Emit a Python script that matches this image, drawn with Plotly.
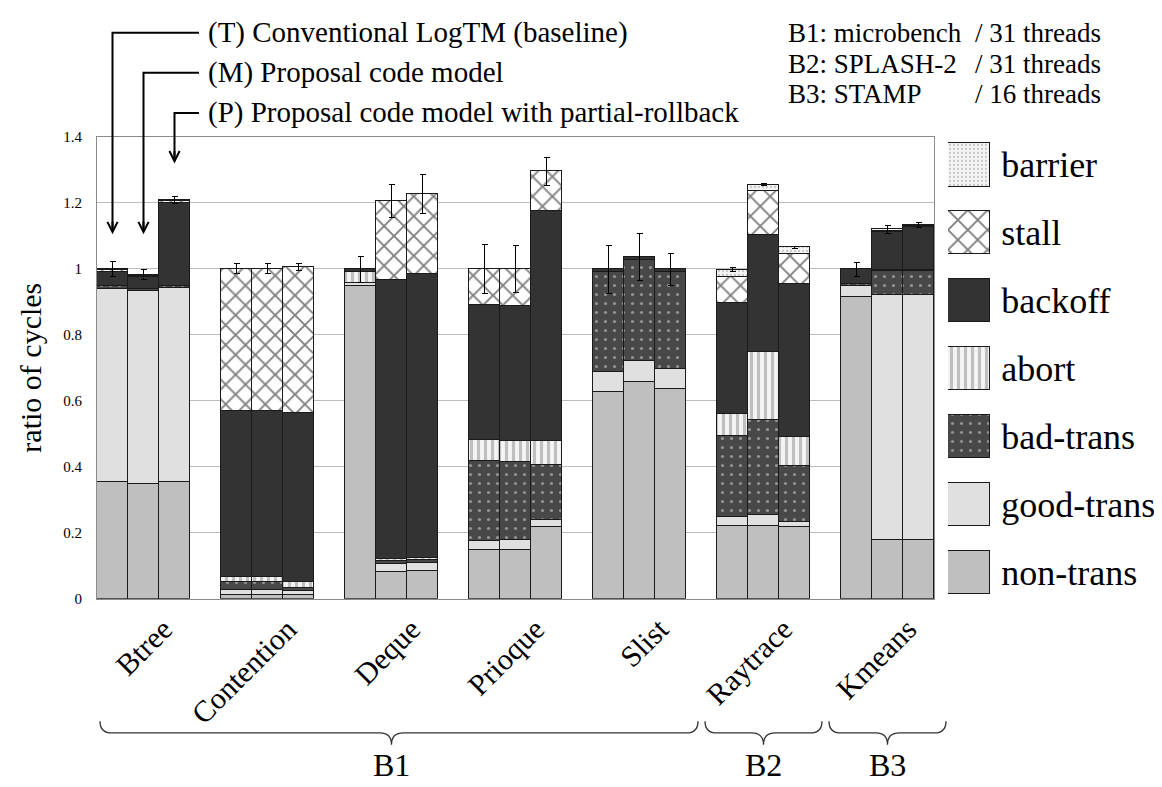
import plotly.graph_objects as go

# ---------------- data ----------------
groups = ["Btree", "Contention", "Deque", "Prioque", "Slist", "Raytrace", "Kmeans"]
configs = ["T", "M", "P"]
series_names = ["non-trans", "good-trans", "bad-trans", "abort", "backoff", "stall", "barrier"]

# values in order: group-major (7 groups) x config-minor (T, M, P)
non_trans  = [0.355, 0.349, 0.355,  0.010, 0.010, 0.010,  0.949, 0.081, 0.084,
              0.149, 0.149, 0.218,  0.628, 0.658, 0.637,  0.221, 0.221, 0.218,
              0.915, 0.178, 0.178]
good_trans = [0.585, 0.585, 0.587,  0.018, 0.018, 0.013,  0.007, 0.023, 0.023,
              0.027, 0.029, 0.020,  0.059, 0.062, 0.060,  0.027, 0.033, 0.016,
              0.034, 0.742, 0.742]
bad_trans  = [0.007, 0.006, 0.007,  0.024, 0.024, 0.011,  0.000, 0.010, 0.010,
              0.241, 0.236, 0.169,  0.303, 0.306, 0.293,  0.245, 0.287, 0.168,
              0.004, 0.074, 0.074]
abort      = [0.000, 0.000, 0.000,  0.014, 0.014, 0.016,  0.036, 0.006, 0.006,
              0.064, 0.065, 0.072,  0.000, 0.000, 0.000,  0.068, 0.208, 0.089,
              0.000, 0.003, 0.003]
backoff    = [0.044, 0.036, 0.252,  0.504, 0.504, 0.513,  0.007, 0.846, 0.863,
              0.411, 0.410, 0.697,  0.009, 0.010, 0.009,  0.336, 0.353, 0.462,
              0.046, 0.115, 0.129]
stall      = [0.005, 0.004, 0.004,  0.430, 0.430, 0.443,  0.000, 0.239, 0.242,
              0.108, 0.111, 0.120,  0.000, 0.000, 0.000,  0.079, 0.133, 0.093,
              0.000, 0.004, 0.004]
barrier    = [0.004, 0.003, 0.003,  0.000, 0.000, 0.000,  0.000, 0.000, 0.000,
              0.000, 0.000, 0.000,  0.000, 0.000, 0.000,  0.022, 0.021, 0.019,
              0.000, 0.004, 0.004]
error      = [0.022, 0.016, 0.011,  0.015, 0.015, 0.010,  0.040, 0.050, 0.059,
              0.073, 0.072, 0.043,  0.072, 0.071, 0.049,  0.005, 0.004, 0.004,
              0.021, 0.013, 0.007]

y_ticks = [0, 0.2, 0.4, 0.6, 0.8, 1.0, 1.2, 1.4]
y_ticktext = ["0", "0.2", "0.4", "0.6", "0.8", "1", "1.2", "1.4"]

suites = ["B1", "B2", "B3"]
suite_span = [(0, 4), (5, 5), (6, 6)]          # first/last group index
config_labels = ["(T) Conventional LogTM (baseline)",
                 "(M) Proposal code model",
                 "(P) Proposal code model with partial-rollback"]
config_arrow_tip = [1.105, 1.105, 1.32]
info_left = ["B1: microbench", "B2: SPLASH-2", "B3: STAMP"]
info_right = ["/ 31 threads", "/ 31 threads", "/ 16 threads"]

# ---------------- styles ----------------
FONT = "Liberation Serif, Times New Roman, serif"
LINE = dict(color="#1a1a1a", width=1)
styles = {
    "non-trans":  dict(color="#bfbfbf", line=LINE),
    "good-trans": dict(color="#e0e0e0", line=LINE),
    "bad-trans":  dict(color="#484848", line=LINE,
                       pattern=dict(shape=".", fgcolor="#dcdcdc", bgcolor="#484848",
                                    size=9, solidity=0.1)),
    "abort":      dict(color="#f4f4f4", line=LINE,
                       pattern=dict(shape="|", fgcolor="#8a8a8a", bgcolor="#f4f4f4",
                                    size=7, solidity=0.45)),
    "backoff":    dict(color="#333333", line=LINE),
    "stall":      dict(color="#ffffff", line=LINE,
                       pattern=dict(shape="x", fgcolor="#000000", bgcolor="#ffffff",
                                    size=14, solidity=0.25)),
    "barrier":    dict(color="#f4f4f4", line=LINE,
                       pattern=dict(shape=".", fgcolor="#9a9a9a", bgcolor="#f4f4f4",
                                    size=4, solidity=0.25)),
}
series_values = [non_trans, good_trans, bad_trans, abort, backoff, stall, barrier]

# ---------------- geometry (page pixel coordinates) ----------------
OFF = 8                      # page body margin around the figure
W, H = 1162 - OFF, 787 - OFF
ML, MR, MT, MB = 97 - OFF, 2, 2, 2
PW, PH = W - ML - MR, H - MT - MB
PLOT_L, PLOT_R, PLOT_T, PLOT_B = 97, 934, 131.5, 603
NSLOT = 4 * len(groups) - 1
SLOT = (PLOT_R - PLOT_L) / NSLOT
LABEL_SHIFT = 0.65           # rotated labels end slightly right of group centre


def fx(px):
    return (px - OFF - ML) / PW


def fy(py):
    return (H - MB - (py - OFF)) / PH


def xd(x):          # data x -> paper
    return fx(PLOT_L + (x + 0.5) * SLOT)


def yd_px(v):       # data y -> page pixel
    return PLOT_B - v * (PLOT_B - PLOT_T) / 1.4


xpos = [4 * g + i for g in range(len(groups)) for i in range(len(configs))]
hover = [f"{groups[g]} ({configs[i]})" for g in range(len(groups)) for i in range(len(configs))]

fig = go.Figure()
for name, vals in zip(series_names, series_values):
    kw = {}
    if name == "barrier":
        kw["error_y"] = dict(type="data", array=error, visible=True,
                             color="#000000", thickness=1, width=3)
    fig.add_trace(go.Bar(x=xpos, y=vals, name=name, width=1.0,
                         marker=styles[name], hovertext=hover,
                         showlegend=False, **kw))

# legend drawn as a small helper bar axis (big pattern swatches)
for name in series_names:
    fig.add_trace(go.Bar(x=[1], y=[name], orientation="h", width=0.635,
                         marker=styles[name], xaxis="x2", yaxis="y2",
                         showlegend=False, hoverinfo="skip"))

fig.update_layout(
    width=W, height=H,
    margin=dict(l=ML, r=MR, t=MT, b=MB),
    paper_bgcolor="white", plot_bgcolor="white",
    barmode="stack", bargap=0,
    font=dict(family=FONT, color="#000000"),
    xaxis=dict(domain=[fx(PLOT_L), fx(PLOT_R)], range=[-0.5, NSLOT - 0.5],
               tickvals=[4 * g + 1 + LABEL_SHIFT for g in range(len(groups))],
               ticktext=groups,
               tickangle=-45, tickfont=dict(size=30, family=FONT),
               ticks="", showgrid=False, showline=True, linecolor="#8c8c8c",
               mirror=True, zeroline=False),
    yaxis=dict(domain=[fy(PLOT_B), fy(PLOT_T)], range=[0, 1.4],
               tickvals=y_ticks, ticktext=y_ticktext,
               tickfont=dict(size=15, family=FONT),
               ticks="outside", ticklen=11, tickcolor="rgba(0,0,0,0)",
               showgrid=True, gridcolor="#bdbdbd", gridwidth=1,
               showline=True, linecolor="#8c8c8c", mirror=True, zeroline=False),
    xaxis2=dict(domain=[fx(948), fx(990)], range=[0, 1], anchor="y2",
                visible=False, fixedrange=True),
    yaxis2=dict(domain=[fy(610.7), fy(125.3)], range=[-0.5, 6.5], anchor="x2",
                type="category", categoryorder="array", categoryarray=series_names,
                side="right", showgrid=False, showline=False, zeroline=False,
                ticks="outside", ticklen=3, tickcolor="rgba(0,0,0,0)",
                tickfont=dict(size=36, family=FONT), fixedrange=True),
)

annotations = []
shapes = []

# y axis title
annotations.append(dict(xref="paper", yref="paper", x=fx(31), y=fy(367),
                        text="ratio of cycles", textangle=-90, showarrow=False,
                        font=dict(size=30, family=FONT), xanchor="center", yanchor="middle"))

# config labels with arrows
label_y = [25, 66, 107]
for i, (txt, tip) in enumerate(zip(config_labels, config_arrow_tip)):
    ly = label_y[i]
    tip_px = yd_px(tip)
    shapes.append(dict(type="path", xref="paper", yref="paper",
                       path=f"M {fx(199)},{fy(ly)} L {xd(i)},{fy(ly)} L {xd(i)},{fy(tip_px - 4)}",
                       line=dict(color="#000000", width=2)))
    annotations.append(dict(xref="x", yref="y", x=i, y=tip, ax=0, ay=-14, text="",
                            showarrow=True, arrowhead=5, arrowsize=1, arrowwidth=2,
                            arrowcolor="#000000"))
    annotations.append(dict(xref="paper", yref="paper", x=fx(206), y=fy(ly), text=txt,
                            showarrow=False, xanchor="left", yanchor="middle",
                            font=dict(size=29, family=FONT)))

# info text top right
info_y = [25, 57, 88]
for a, b, yy in zip(info_left, info_right, info_y):
    annotations.append(dict(xref="paper", yref="paper", x=fx(786), y=fy(yy), text=a,
                            showarrow=False, xanchor="left", yanchor="middle",
                            font=dict(size=27, family=FONT)))
    annotations.append(dict(xref="paper", yref="paper", x=fx(973), y=fy(yy), text=b,
                            showarrow=False, xanchor="left", yanchor="middle",
                            font=dict(size=27, family=FONT)))

# suite braces
top_y, mid_y, tip_y = fy(728), fy(740), fy(752)
r = 12 / PW
for s, (g0, g1) in zip(suites, suite_span):
    left = xd(4 * g0 - 0.5)
    right = xd(4 * g1 + 2.5)
    x0 = left + 3 / PW if g0 == 0 else left - 12 / PW
    x1 = right + 12 / PW
    xc = (left + right) / 2
    path = (f"M {x0},{top_y} Q {x0},{mid_y} {x0 + r},{mid_y} L {xc - r},{mid_y} "
            f"Q {xc},{mid_y} {xc},{tip_y} Q {xc},{mid_y} {xc + r},{mid_y} "
            f"L {x1 - r},{mid_y} Q {x1},{mid_y} {x1},{top_y}")
    shapes.append(dict(type="path", xref="paper", yref="paper", path=path,
                       line=dict(color="#333333", width=1.3)))
    annotations.append(dict(xref="paper", yref="paper", x=xc, y=fy(773), text=s,
                            showarrow=False, xanchor="center", yanchor="middle",
                            font=dict(size=32, family=FONT)))

fig.update_layout(annotations=annotations, shapes=shapes)
fig.write_html("out.html")
